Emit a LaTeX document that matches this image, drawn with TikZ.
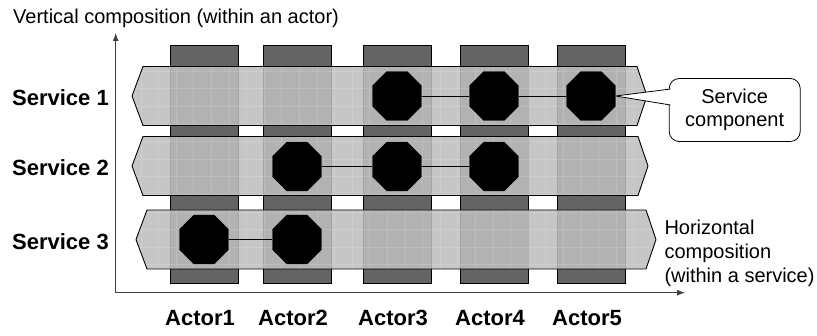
\documentclass[tikz,border=0pt]{standalone}
\usepackage{fontspec}
\setmainfont{Liberation Sans}
\usetikzlibrary{shapes.geometric,arrows.meta}
\definecolor{barGray}{RGB}{100,100,100}
\definecolor{bandGray}{RGB}{190,190,190}
\tikzset{
  comp/.style={regular polygon, regular polygon sides=8, minimum size=53pt, inner sep=0pt, fill=black, draw=black},
  actorbar/.style={fill=barGray, draw=black, line width=.6pt},
  note/.style={draw=black, fill=white, line width=.8pt, rounded corners=10pt, minimum width=131pt, minimum height=63pt, inner sep=0pt, align=center, font=\fontsize{20}{23.5}\selectfont},
  lbl/.style={font=\fontsize{22}{26}\selectfont\bfseries, inner sep=0pt},
  txt/.style={font=\fontsize{20}{24}\selectfont, inner sep=0pt, align=left}
}

\begin{document}
\begin{tikzpicture}[>={Latex[length=8pt,width=6pt]}, x=1pt, y=1pt]
\useasboundingbox (0,0) rectangle (817,335);
% actor columns
\foreach \i/\x in {1/204,2/297,3/397,4/494,5/591}
{
    \draw[actorbar] (\x-34,52) rectangle (\x+34,290);
    \node[lbl, anchor=base] (actor\i) at (\x-4,9.3) {Actor\i};
}
% service bands, with a faint grid texture
\foreach \s/\y/\l/\r in {1/239/143/637, 2/169/143/638, 3/95.5/147/646}
{
    \def\bandpath{(\l,\y+29.5) -- (\r,\y+29.5) -- (\r+10,\y) -- (\r,\y-29.5) -- (\l,\y-29.5) -- (\l-11,\y) -- cycle}
    \fill[bandGray, opacity=.87] \bandpath;
    \begin{scope}
        \clip \bandpath;
        \draw[white, opacity=.15, step=17.6] (120,\y-35) grid (670,\y+35);
    \end{scope}
    \draw[line width=.9pt, line join=miter] \bandpath;
    \node[lbl, anchor=base east] (svc\s) at (109,\y-10) {Service \s};
}
% service components
\node[comp] (s1a3) at (397,239) {};
\node[comp] (s1a4) at (494,239) {};
\node[comp] (s1a5) at (591,239) {};
\node[comp] (s2a2) at (297,168.5) {};
\node[comp] (s2a3) at (397,168.5) {};
\node[comp] (s2a4) at (494,168.5) {};
\node[comp] (s3a1) at (204,95.5) {};
\node[comp] (s3a2) at (297,95.5) {};
\draw[line width=.8pt] (s1a3) -- (s1a4) -- (s1a5);
\draw[line width=.8pt] (s2a2) -- (s2a3) -- (s2a4);
\draw[line width=.8pt] (s3a1) -- (s3a2);
% axes
\coordinate (origin) at (115.7,42.3);
\coordinate (vtop) at (115.7,302);
\coordinate (hend) at (685,42.3);
\draw[->, black!75, line width=.8pt] (origin) -- (vtop);
\draw[->, black!75, line width=.8pt] (origin) -- (hend);
\node[txt, anchor=base west] (vtitle) at (13,311) {Vertical composition (within an actor)};
\node[txt, anchor=north west] (htitle) at (664.3,115.5) {Horizontal\\composition\\(within a service)};
% callout
\node[note] (note) at (734.7,225) {Service\\component};
\coordinate (tailA) at (670.5,246);
\coordinate (tailB) at (670.5,230);
\filldraw[fill=white, line width=.8pt] (tailA) -- (s1a5.east) -- (tailB);
\end{tikzpicture}
\end{document}
